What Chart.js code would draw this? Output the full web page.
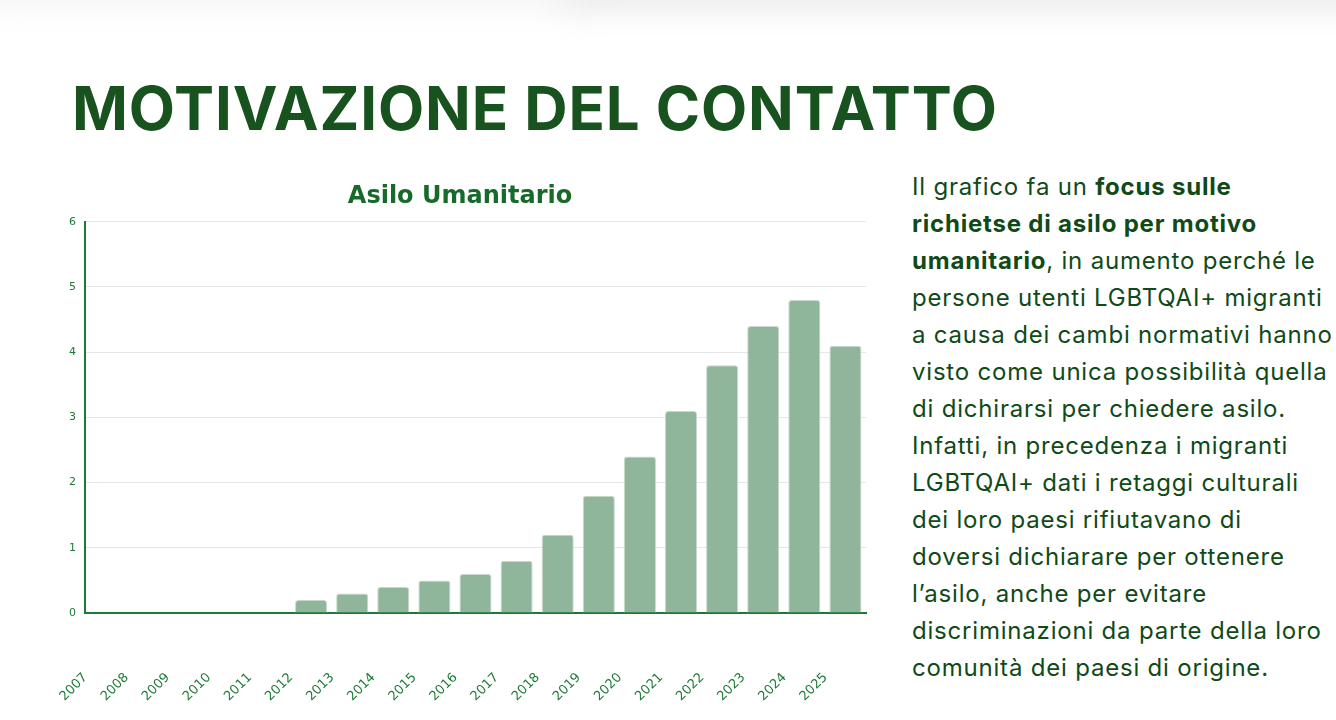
<!DOCTYPE html>
<html>
<head>
<meta charset="utf-8">
<script src="https://cdn.jsdelivr.net/npm/chart.js@4/dist/chart.umd.min.js"></script>
<style>
  html, body { margin:0; padding:0; width:1336px; height:720px; overflow:hidden; background:#ffffff; }
  #shade { position:absolute; left:560px; top:-36px; width:820px; height:44px; background:#e8e8e8; filter:blur(16px); }
  #shade2 { position:absolute; left:-20px; top:-32px; width:600px; height:36px; background:#f2f2f2; filter:blur(16px); }
  #title { position:absolute; left:72px; top:78px; font-family:"Inter", sans-serif; font-weight:700; font-size:60px; line-height:60px; color:#17521f; white-space:nowrap; }
  #chartBox { position:absolute; left:40px; top:170px; width:840px; height:550px; }
  #text { position:absolute; left:912px; top:168px; font-family:"Inter", sans-serif; font-size:24px; line-height:37px; color:#0f4a18; white-space:nowrap; letter-spacing:0.8px; }
  #text b { font-weight:700; }
</style>
</head>
<body>
<div id="shade"></div>
<div id="shade2"></div>
<div id="title">MOTIVAZIONE DEL CONTATTO</div>
<div id="chartBox"><canvas id="c" width="840" height="550"></canvas></div>
<div id="text">
Il grafico fa un <b>focus sulle</b><br>
<b>richietse di asilo per motivo</b><br>
<b>umanitario</b>, in aumento perché le<br>
persone utenti LGBTQAI+ migranti<br>
a causa dei cambi normativi hanno<br>
visto come unica possibilità quella<br>
di dichirarsi per chiedere asilo.<br>
Infatti, in precedenza i migranti<br>
LGBTQAI+ dati i retaggi culturali<br>
dei loro paesi rifiutavano di<br>
doversi dichiarare per ottenere<br>
l’asilo, anche per evitare<br>
discriminazioni da parte della loro<br>
comunità dei paesi di origine.
</div>
<script>
// ---- data ----
const years = ["2007","2008","2009","2010","2011","2012","2013","2014","2015","2016","2017","2018","2019","2020","2021","2022","2023","2024","2025"];
const asiloUmanitario = [0, 0, 0, 0, 0, 0.2, 0.3, 0.4, 0.5, 0.6, 0.8, 1.2, 1.8, 2.4, 3.1, 3.8, 4.4, 4.8, 4.1];
const yTicks = [0, 1, 2, 3, 4, 5, 6];
const chartTitle = "Asilo Umanitario";

// fit main title width
(function(){
  const t = document.getElementById('title');
  const target = 925;
  const w = t.getBoundingClientRect().width;
  const n = t.textContent.length;
  t.style.letterSpacing = ((target - w) / (n - 1)) + 'px';
})();

const green = '#1d7a36';
new Chart(document.getElementById('c'), {
  type: 'bar',
  data: {
    labels: years,
    datasets: [{
      label: chartTitle,
      data: asiloUmanitario,
      backgroundColor: '#8fb59a',
      borderColor: '#c9d8cc',
      borderWidth: 1,
      borderRadius: 3,
      categoryPercentage: 1,
      barPercentage: 0.78
    }]
  },
  options: {
    responsive: false,
    devicePixelRatio: 1,
    animation: false,
    layout: { padding: { left: 14, right: 14, top: 0, bottom: 0 } },
    plugins: {
      legend: { display: false },
      tooltip: { enabled: false },
      title: {
        display: true,
        text: chartTitle,
        color: '#186a2b',
        font: { family: 'DejaVu Sans', size: 24, weight: 'bold' },
        padding: { top: 12, bottom: 11 }
      }
    },
    scales: {
      x: {
        grid: { display: false, drawTicks: false },
        border: { display: true, color: green, width: 2 },
        ticks: {
          color: green,
          font: { family: 'DejaVu Sans', size: 13 },
          minRotation: 45, maxRotation: 45,
          labelOffset: -20,
          padding: 57,
          autoSkip: false
        },
        afterFit: s => { s.height = 107; s.paddingLeft = 0; s.paddingRight = 0; }
      },
      y: {
        min: 0, max: 6,
        afterBuildTicks: s => { s.ticks = yTicks.map(v => ({ value: v })); },
        grid: { color: '#e6e6e6', lineWidth: 1, drawTicks: false },
        border: { display: true, color: green, width: 2 },
        ticks: {
          color: green,
          font: { family: 'DejaVu Sans', size: 11 },
          padding: 9
        },
        afterFit: s => { s.width = 31; }
      }
    }
  }
});
</script>
</body>
</html>
